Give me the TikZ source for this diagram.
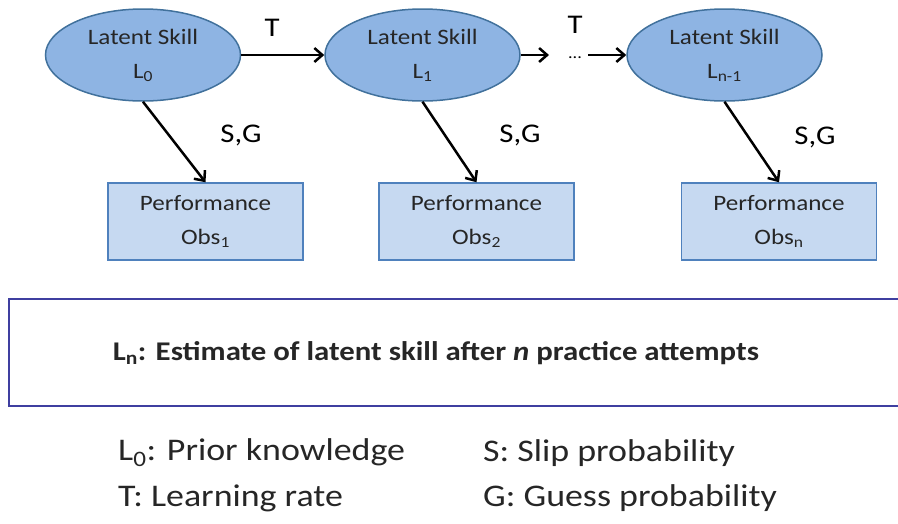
\documentclass[tikz,border=0pt]{standalone}
\usepackage{fontspec}
\setmainfont{Carlito}[FakeStretch=1.14]
\usetikzlibrary{shapes.geometric,arrows.meta}
\definecolor{ellfill}{HTML}{8EB4E3}
\definecolor{elldraw}{HTML}{41719C}
\definecolor{recfill}{HTML}{C6D9F1}
\definecolor{recdraw}{HTML}{4F81BD}
\definecolor{framecol}{HTML}{3F3FA0}
\definecolor{txt}{HTML}{262626}
\tikzset{
  skill/.style={ellipse, draw=elldraw, fill=ellfill, line width=1.5pt, minimum width=195pt, minimum height=92pt, inner sep=0pt, align=center, text=txt, font=\fontsize{22}{34}\selectfont},
  obs/.style={rectangle, draw=recdraw, fill=recfill, line width=1.5pt, minimum width=195pt, minimum height=77pt, inner sep=0pt, align=center, text=txt, font=\fontsize{22}{34}\selectfont},
  conn/.style={line width=2.5pt, -{Straight Barb[length=8pt,width=14pt,line width=2.5pt]}},
  lbl/.style={font=\fontsize{27}{30}\selectfont, inner sep=0pt},
  legend/.style={anchor=west, font=\fontsize{31.5}{34}\selectfont, text=txt, inner sep=0pt}
}
\begin{document}
\begin{tikzpicture}[x=1pt,y=-1pt]
\useasboundingbox (0,0) rectangle (898,523);
\node[skill] (e1) at (143,55) {Latent Skill\\L\textsubscript{0}};
\node[skill] (e2) at (422.5,55) {Latent Skill\\L\textsubscript{1}};
\node[skill] (e3) at (724.5,55) {Latent Skill\\L\textsubscript{n-1}};
\node[obs] (r1) at (205.5,221.5) {Performance\\Obs\textsubscript{1}};
\node[obs] (r2) at (476.5,221.5) {Performance\\Obs\textsubscript{2}};
\node[obs] (r3) at (779,221.5) {Performance\\Obs\textsubscript{n}};
\coordinate (a2) at (549,55);
\coordinate (a3) at (588,55);
\node[font=\fontsize{16}{16}\selectfont, inner sep=0pt] (dots) at (575,58) {...};
\draw[conn] (e1.east) -- (e2.west);
\draw[conn] (e2.east) -- (a2);
\draw[conn] (a3) -- (e3.west);
\draw[conn] (e1.south) -- (r1.north);
\draw[conn] (e2.south) -- (r2.north);
\draw[conn] (e3.south) -- (r3.north);
\node[lbl] (t1) at (272,28) {T};
\node[lbl] (t2) at (575,25) {T};
\node[lbl] (sg1) at (241,135) {S,G};
\node[lbl] (sg2) at (520,135) {S,G};
\node[lbl] (sg3) at (815,137) {S,G};
\draw[framecol, line width=2.5pt] (900,299) -- (9,299) -- (9,406) -- (900,406);
\node[font=\fontsize{27}{28}\selectfont\bfseries, text=txt, inner sep=0pt] (est) at (436,353) {L\textsubscript{n}: Estimate of latent skill after \textit{n} practice attempts};
\node[legend] (l0) at (118,453) {L\textsubscript{0}: Prior knowledge};
\node[legend] (lt) at (118,498) {T: Learning rate};
\node[legend] (ls) at (483,453) {S: Slip probability};
\node[legend] (lg) at (483,498) {G: Guess probability};
\end{tikzpicture}
\end{document}
